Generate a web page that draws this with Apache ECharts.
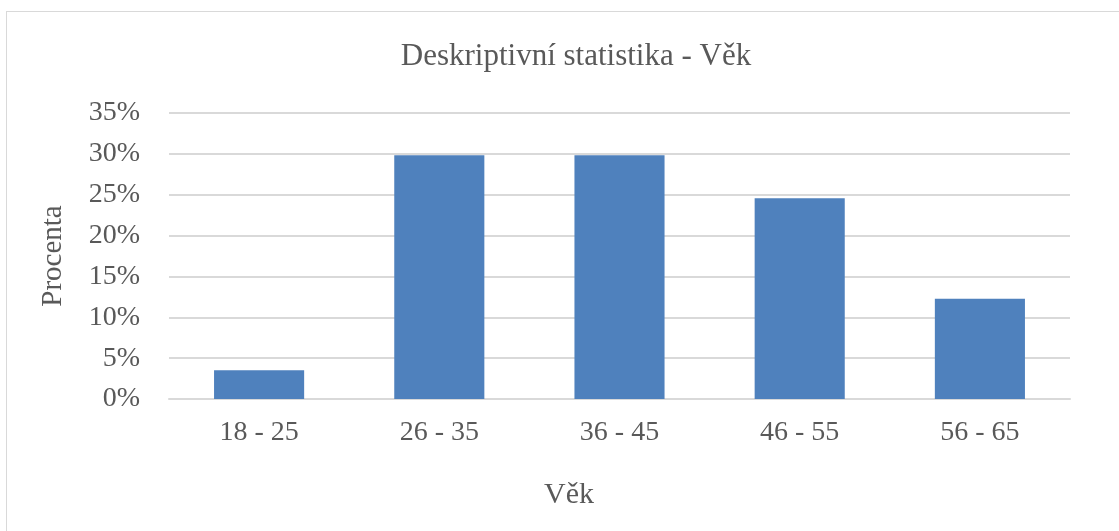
<!DOCTYPE html>
<html>
<head>
<meta charset="utf-8">
<script src="https://cdn.jsdelivr.net/npm/echarts@6/dist/echarts.min.js"></script>
<style>
    html, body { margin: 0; padding: 0; background: #fff; }
    #frame { position: absolute; left: 6px; top: 11px; width: 1200px; height: 600px; border: 1px solid #d9d9d9; box-sizing: border-box; }
    #chart { position: absolute; left: 0; top: 0; width: 1119px; height: 531px; }
</style>
</head>
<body>
<div id="frame"></div>
<div id="chart"></div>
<script>
    // věkové kategorie a podíl respondentů (%)
    var categories = ['18 - 25', '26 - 35', '36 - 45', '46 - 55', '56 - 65'];
    var percents = [3.51, 29.82, 29.82, 24.56, 12.28];
    var yTicks = [0, 5, 10, 15, 20, 25, 30, 35];

    var font = 'Liberation Serif, Times New Roman, serif';
    var textColor = '#595959';

    var chart = echarts.init(document.getElementById('chart'));
    var option = {
        animation: false,
        title: [
            {
                text: 'Deskriptivní statistika - Věk',
                left: 571, top: 36, textAlign: 'center',
                textStyle: { fontFamily: font, fontSize: 31, fontWeight: 'normal', color: textColor }
            },
            {
                text: 'Věk',
                left: 564, top: 475, textAlign: 'center',
                textStyle: { fontFamily: font, fontSize: 30, fontWeight: 'normal', color: textColor }
            }
        ],
        grid: { left: 169, right: 49, top: 113, bottom: 132 },
        xAxis: {
            type: 'category',
            data: categories,
            axisLine: { lineStyle: { color: '#d9d9d9', width: 2 } },
            axisTick: { show: false },
            axisLabel: { fontFamily: font, fontSize: 28, color: textColor, margin: 20 }
        },
        yAxis: {
            type: 'value',
            min: yTicks[0],
            max: yTicks[yTicks.length - 1],
            interval: 5,
            name: 'Procenta',
            nameLocation: 'middle',
            nameGap: 101,
            nameTextStyle: { fontFamily: font, fontSize: 29, color: textColor },
            axisLine: { show: false },
            axisTick: { show: false },
            splitLine: { lineStyle: { color: '#d9d9d9', width: 2 } },
            axisLabel: { fontFamily: font, fontSize: 28, color: textColor, margin: 29, formatter: '{value}%' }
        },
        series: [
            {
                type: 'bar',
                data: percents,
                barCategoryGap: '50%',
                itemStyle: { color: '#4f81bd' }
            }
        ]
    };
    chart.setOption(option);
</script>
</body>
</html>
